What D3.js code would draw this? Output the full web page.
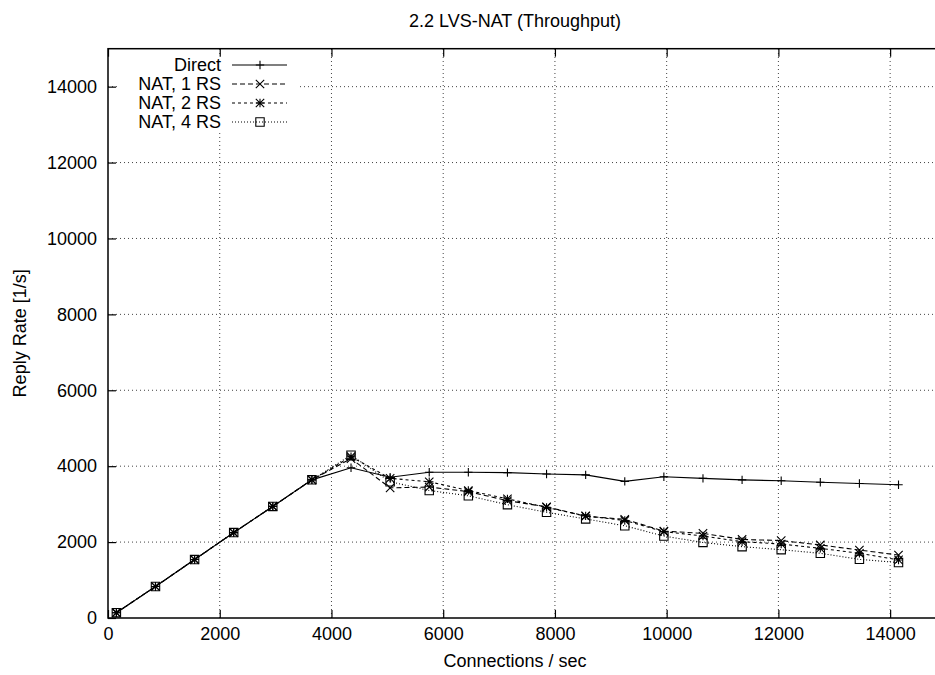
<!DOCTYPE html>
<html>
<head>
<meta charset="utf-8">
<script src="https://cdn.jsdelivr.net/npm/d3@7/dist/d3.min.js"></script>
<style>
  html, body { margin: 0; padding: 0; background: #fff; }
  svg { display: block; }
  text { font-family: "Liberation Sans", Arial, Helvetica, sans-serif; fill: #000; }
</style>
</head>
<body>
<svg id="chart" width="935" height="675"></svg>
<script>
// ---- data ----
const connRate = [150, 850, 1550, 2250, 2950, 3650, 4350, 5050, 5750, 6450, 7150,
                  7850, 8550, 9250, 9950, 10650, 11350, 12050, 12750, 13450, 14150];
const direct = [140, 830, 1540, 2250, 2940, 3640, 3960, 3710, 3840, 3840, 3830,
                3795, 3770, 3600, 3720, 3680, 3640, 3615, 3575, 3545, 3510];
const nat1 = [140, 830, 1540, 2250, 2940, 3640, 4200, 3430, 3450, 3330, 3090,
              2930, 2680, 2600, 2290, 2230, 2070, 2040, 1925, 1790, 1660];
const nat2 = [140, 830, 1540, 2250, 2940, 3640, 4250, 3680, 3590, 3360, 3140,
              2915, 2690, 2570, 2275, 2160, 2010, 1950, 1835, 1705, 1530];
const nat4 = [140, 830, 1540, 2250, 2940, 3640, 4290, 3590, 3360, 3220, 2985,
              2785, 2610, 2430, 2160, 1990, 1880, 1800, 1705, 1545, 1460];
const seriesNames = ["Direct", "NAT, 1 RS", "NAT, 2 RS", "NAT, 4 RS"];
const xTicks = [0, 2000, 4000, 6000, 8000, 10000, 12000, 14000];
const yTicks = [0, 2000, 4000, 6000, 8000, 10000, 12000, 14000];
const titleText = "2.2 LVS-NAT (Throughput)";
const xTitle = "Connections / sec";
const yTitle = "Reply Rate [1/s]";

// ---- layout ----
const L = 108, R = 946, T = 48.7, B = 618;
const svg = d3.select("#chart");
const x = d3.scaleLinear().domain([0, 15000]).range([L, R]);
const y = d3.scaleLinear().domain([0, 15000]).range([B, T]);

const series = [
  { name: seriesNames[0], values: direct, dash: null, marker: "plus" },
  { name: seriesNames[1], values: nat1, dash: "5,3", marker: "cross" },
  { name: seriesNames[2], values: nat2, dash: "3,3", marker: "star" },
  { name: seriesNames[3], values: nat4, dash: "1,2", marker: "square" }
];

// grid
const grid = svg.append("g").attr("stroke", "#444").attr("stroke-width", 1)
  .attr("stroke-dasharray", "1,3");
xTicks.filter(d => d > 0).forEach(d => {
  grid.append("line").attr("x1", x(d)).attr("x2", x(d)).attr("y1", B).attr("y2", T);
});
yTicks.filter(d => d > 0).forEach(d => {
  grid.append("line").attr("x1", L).attr("x2", R).attr("y1", y(d)).attr("y2", y(d));
});

// legend background (occludes grid like gnuplot key)
svg.append("rect").attr("x", 120).attr("y", 55).attr("width", 178).attr("height", 77)
  .attr("fill", "#fff");

// axes with inward ticks
const fs = 18;
const xAxis = svg.append("g").attr("transform", `translate(0,${B})`)
  .call(d3.axisBottom(x).tickValues(xTicks).tickSize(-8).tickPadding(9).tickFormat(d3.format("d")));
const yAxis = svg.append("g").attr("transform", `translate(${L},0)`)
  .call(d3.axisLeft(y).tickValues(yTicks).tickSize(-8).tickPadding(11).tickFormat(d3.format("d")));
const xTop = svg.append("g").attr("transform", `translate(0,${T})`)
  .call(d3.axisTop(x).tickValues(xTicks).tickSize(-8).tickFormat(""));
const yRight = svg.append("g").attr("transform", `translate(${R},0)`)
  .call(d3.axisRight(y).tickValues(yTicks).tickSize(-8).tickFormat(""));
[xAxis, yAxis, xTop, yRight].forEach(g => {
  g.select(".domain").remove();
  g.selectAll(".tick line").attr("stroke", "#000").attr("stroke-width", 1.2);
  g.selectAll("text").attr("font-size", fs).attr("font-family", "Liberation Sans, Arial, sans-serif").attr("fill", "#000");
});

// border
svg.append("rect").attr("x", L).attr("y", T).attr("width", R - L).attr("height", B - T)
  .attr("fill", "none").attr("stroke", "#000").attr("stroke-width", 1.5);

// titles
svg.append("text").attr("x", 515).attr("y", 21).attr("text-anchor", "middle")
  .attr("dominant-baseline", "central").attr("font-size", fs).text(titleText);
svg.append("text").attr("x", 515).attr("y", 661).attr("text-anchor", "middle")
  .attr("dominant-baseline", "central").attr("font-size", fs).text(xTitle);
svg.append("text").attr("transform", `translate(20,${(T + B) / 2}) rotate(-90)`)
  .attr("text-anchor", "middle").attr("dominant-baseline", "central")
  .attr("font-size", fs).text(yTitle);

// markers
function drawMarker(g, type, cx, cy) {
  const h = 4.2;
  const p = d3.path();
  if (type === "plus" || type === "star") {
    p.moveTo(cx - h, cy); p.lineTo(cx + h, cy);
    p.moveTo(cx, cy - h); p.lineTo(cx, cy + h);
  }
  if (type === "cross" || type === "star") {
    p.moveTo(cx - h, cy - h); p.lineTo(cx + h, cy + h);
    p.moveTo(cx - h, cy + h); p.lineTo(cx + h, cy - h);
  }
  if (type === "square") {
    p.rect(cx - h, cy - h, 2 * h, 2 * h);
  }
  g.append("path").attr("d", p.toString()).attr("fill", "none")
    .attr("stroke", "#000").attr("stroke-width", 1.1);
}

const line = d3.line().x((d, i) => x(connRate[i])).y(d => y(d));
series.forEach(s => {
  const g = svg.append("g");
  g.append("path").datum(s.values).attr("d", line).attr("fill", "none")
    .attr("stroke", "#000").attr("stroke-width", 1.1)
    .attr("stroke-dasharray", s.dash);
  s.values.forEach((v, i) => drawMarker(g, s.marker, x(connRate[i]), y(v)));
});

// legend
const ly0 = 65, ldy = 19;
series.forEach((s, i) => {
  const yy = ly0 + i * ldy;
  svg.append("text").attr("x", 221).attr("y", yy).attr("text-anchor", "end")
    .attr("dominant-baseline", "central").attr("font-size", fs).text(s.name);
  svg.append("line").attr("x1", 232).attr("x2", 287).attr("y1", yy).attr("y2", yy)
    .attr("stroke", "#000").attr("stroke-width", 1.1).attr("stroke-dasharray", s.dash);
  drawMarker(svg, s.marker, 260, yy);
});
</script>
</body>
</html>
